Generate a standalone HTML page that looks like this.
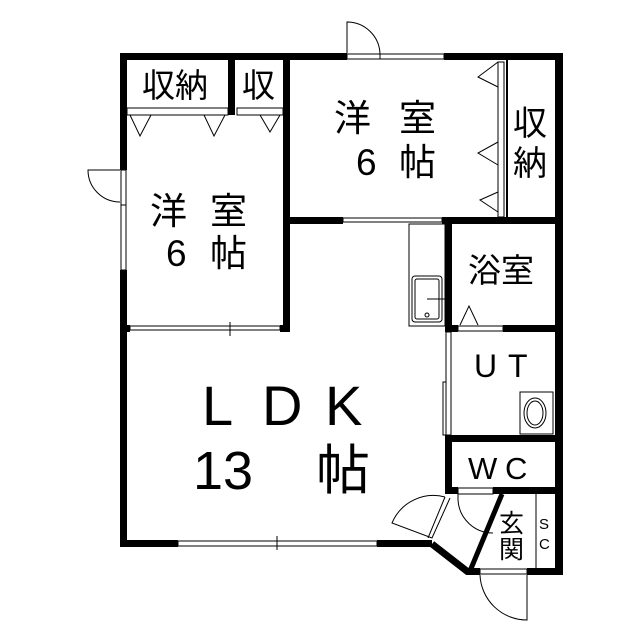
<!DOCTYPE html>
<html><head><meta charset="utf-8"><style>
html,body{margin:0;padding:0;background:#fff}
svg{display:block}
text{font-family:"Liberation Sans","Noto Sans CJK JP",sans-serif;fill:#000}
</style></head><body>
<svg width="640" height="640" viewBox="0 0 640 640" xmlns="http://www.w3.org/2000/svg">
<rect width="640" height="640" fill="#fff"/>
<g fill="#000">
<rect x="120" y="53" width="227" height="7"/>
<rect x="444" y="53" width="119" height="7"/>
<rect x="120" y="53" width="7" height="117"/>
<rect x="120" y="270" width="7" height="277"/>
<rect x="555" y="53" width="8" height="522"/>
<rect x="120" y="540" width="58" height="7"/>
<rect x="377" y="540" width="55" height="7"/>
<rect x="283" y="53" width="7" height="279"/>
<rect x="228" y="60" width="7" height="55"/>
<rect x="127" y="325" width="3" height="7"/>
<rect x="280" y="325" width="10" height="7"/>
<rect x="290" y="217" width="53" height="7"/>
<rect x="442" y="217" width="121" height="7"/>
<rect x="445" y="217" width="7" height="115"/>
<rect x="445" y="325" width="13" height="7"/>
<rect x="503" y="325" width="60" height="7"/>
<rect x="445" y="435" width="118" height="7"/>
<rect x="445" y="435" width="7" height="59"/>
<rect x="445" y="487" width="13" height="7"/>
<rect x="493" y="487" width="70" height="7"/>
<rect x="466" y="568" width="14" height="7"/>
<rect x="527" y="568" width="36" height="7"/>
</g>
<g stroke="#000" fill="none">
<line x1="432" y1="544" x2="468" y2="572" stroke-width="7"/>
<line x1="502" y1="494" x2="470" y2="571" stroke-width="5"/>
<rect x="380" y="54" width="64" height="5" stroke-width="1"/>
<rect x="347" y="54" width="33" height="5" stroke-width="1"/>
<rect x="121" y="205" width="5" height="65" stroke-width="1"/>
<rect x="121" y="170" width="5" height="35" stroke-width="1"/>
<rect x="130" y="326" width="150" height="4" stroke-width="1"/>
<line x1="230" y1="322" x2="230" y2="336" stroke-width="1"/>
<rect x="343" y="218" width="99" height="4" stroke-width="1"/>
<rect x="178" y="541" width="199" height="5" stroke-width="1"/>
<line x1="277" y1="536" x2="277" y2="550" stroke-width="1"/>
<path d="M347 53 V22 A33 33 0 0 1 380 55" stroke-width="1"/>
<path d="M120 170 H88 A32 32 0 0 0 120 202" stroke-width="1"/>
<path d="M527 575 V620 A47 47 0 0 1 480 575" stroke-width="1"/>
<rect x="480" y="569" width="47" height="5" stroke-width="1"/>
<path d="M458 494 V500 A35 35 0 0 0 493 533" stroke-width="1"/>
<rect x="458" y="488" width="35" height="6" stroke-width="1"/>
<path d="M450 498 L432 538 L392 523 A45 45 0 0 1 445 497" stroke-width="1"/>
<line x1="445" y1="497" x2="428" y2="538" stroke-width="1"/>
<rect x="458" y="326" width="45" height="5" stroke-width="1"/>
<path d="M460 325 L469 306 L478 325" stroke-width="1"/>
<rect x="446" y="332" width="5" height="103" stroke-width="1"/>
<rect x="443" y="382" width="3" height="53" stroke-width="1"/>
<rect x="127" y="108" width="101" height="7" stroke-width="1"/>
<rect x="237" y="108" width="46" height="7" stroke-width="1"/>
<path d="M130 115 L140 136 L151 115 M204 115 L214 136 L225 115 M260 115 L270 132 L280 115" stroke-width="1"/>
<rect x="498" y="62" width="6" height="155" stroke-width="1"/>
<path d="M498 62 L478 77 L498 87 M498 142 L478 153 L498 165 M498 192 L480 200 L498 212" stroke-width="1"/>
<line x1="507" y1="60" x2="507" y2="217" stroke-width="2"/>
<rect x="409" y="224" width="36" height="102" stroke-width="1"/>
<rect x="412" y="276" width="30" height="46" rx="3" stroke-width="1"/>
<rect x="415" y="279" width="24" height="40" rx="2" stroke-width="1"/>
<line x1="427" y1="299" x2="445" y2="299" stroke-width="1"/>
<circle cx="427" cy="315" r="2" stroke-width="1"/>
<rect x="520" y="392" width="33" height="42" stroke-width="1"/>
<ellipse cx="535" cy="413" rx="11" ry="15" stroke-width="1"/>
<ellipse cx="535" cy="413" rx="8" ry="12" stroke-width="1"/>
<line x1="536" y1="494" x2="536" y2="569" stroke-width="1"/>
</g>
<text x="142" y="97" font-size="33">収納</text>
<text x="242" y="97" font-size="33">収</text>
<text x="150" y="224" font-size="37">洋</text>
<text x="210" y="224" font-size="37">室</text>
<text x="166" y="266" font-size="37">6</text>
<text x="210" y="266" font-size="37">帖</text>
<text x="334" y="131" font-size="37">洋</text>
<text x="399" y="131" font-size="37">室</text>
<text x="356" y="175" font-size="37">6</text>
<text x="399" y="175" font-size="37">帖</text>
<text x="513" y="135" font-size="34">収</text>
<text x="513" y="175" font-size="34">納</text>
<text x="468" y="282" font-size="33">浴室</text>
<text x="474" y="377" font-size="32">U</text>
<text x="508" y="377" font-size="32">T</text>
<text x="468" y="479" font-size="31">W</text>
<text x="505" y="479" font-size="31">C</text>
<text x="499" y="532" font-size="25">玄</text>
<text x="499" y="558" font-size="25">関</text>
<text x="539" y="529" font-size="15">S</text>
<text x="539" y="549" font-size="15">C</text>
<text x="202" y="425" font-size="56">L</text>
<text x="262" y="425" font-size="56">D</text>
<text x="325" y="425" font-size="56">K</text>
<text x="193" y="489" font-size="54">13</text>
<text x="316" y="489" font-size="54">帖</text>
</svg>
</body></html>
